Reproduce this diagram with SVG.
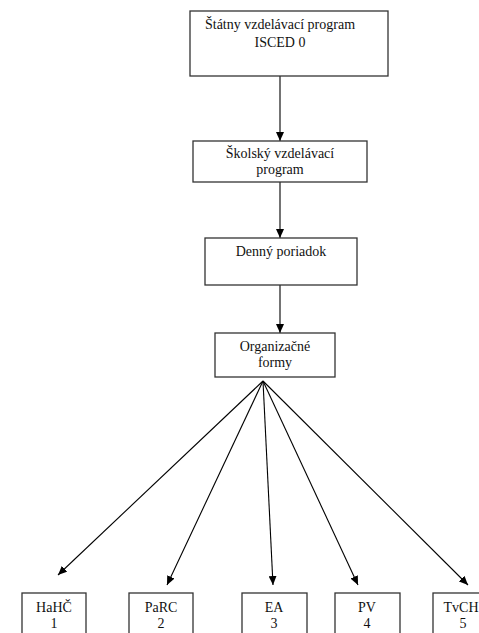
<svg xmlns="http://www.w3.org/2000/svg" width="479" height="633" viewBox="0 0 479 633">
<defs>
<marker id="ah" markerUnits="userSpaceOnUse" markerWidth="10" markerHeight="8" refX="9" refY="4" orient="auto">
<path d="M0,0 L9,4 L0,8 Z" fill="#000"/>
</marker>
<style>
.box{fill:#fff;stroke:#333;stroke-width:1.3}
.t{font-size:14px;fill:#111;text-anchor:middle}
.c{stroke:#000;stroke-width:1.1;fill:none;marker-end:url(#ah)}
</style>
</defs>
<rect width="479" height="633" fill="#fff"/>
<g id="connectors">
<line class="c" x1="280" y1="76" x2="280" y2="141"/>
<line class="c" x1="280" y1="182" x2="280" y2="238"/>
<line class="c" x1="280" y1="285" x2="280" y2="333"/>
<line class="c" x1="263" y1="381" x2="58" y2="575"/>
<line class="c" x1="263" y1="381" x2="167" y2="585"/>
<line class="c" x1="263" y1="381" x2="273" y2="585"/>
<line class="c" x1="263" y1="381" x2="358" y2="585"/>
<line class="c" x1="263" y1="381" x2="468" y2="585"/>
</g>
<g font-family="'Liberation Serif', 'DejaVu Serif', serif">
<g id="n1">
<rect class="box" x="190" y="11" width="198" height="65"/>
<text class="t" x="280" y="29">Štátny vzdelávací program</text>
<text class="t" x="280" y="47">ISCED 0</text>
</g>
<g id="n2">
<rect class="box" x="193" y="141" width="174" height="41"/>
<text class="t" x="280" y="158">Školský vzdelávací</text>
<text class="t" x="280" y="174">program</text>
</g>
<g id="n3">
<rect class="box" x="205" y="238" width="152" height="47"/>
<text class="t" x="281" y="256">Denný poriadok</text>
</g>
<g id="n4">
<rect class="box" x="215" y="333" width="120" height="44"/>
<text class="t" x="275" y="351">Organizačné</text>
<text class="t" x="275" y="367">formy</text>
</g>
<g id="n5">
<rect class="box" x="22" y="593" width="64" height="60"/>
<text class="t" x="54" y="612">HaHČ</text>
<text class="t" x="54" y="628">1</text>
</g>
<g id="n6">
<rect class="box" x="129" y="593" width="64" height="60"/>
<text class="t" x="161" y="612">PaRC</text>
<text class="t" x="161" y="628">2</text>
</g>
<g id="n7">
<rect class="box" x="242" y="593" width="65" height="60"/>
<text class="t" x="274" y="612">EA</text>
<text class="t" x="274" y="628">3</text>
</g>
<g id="n8">
<rect class="box" x="335" y="593" width="65" height="60"/>
<text class="t" x="367" y="612">PV</text>
<text class="t" x="367" y="628">4</text>
</g>
<g id="n9">
<rect class="box" x="433" y="593" width="70" height="60"/>
<text class="t" x="461" y="612">TvCH</text>
<text class="t" x="463" y="628">5</text>
</g>
</g>
</svg>
